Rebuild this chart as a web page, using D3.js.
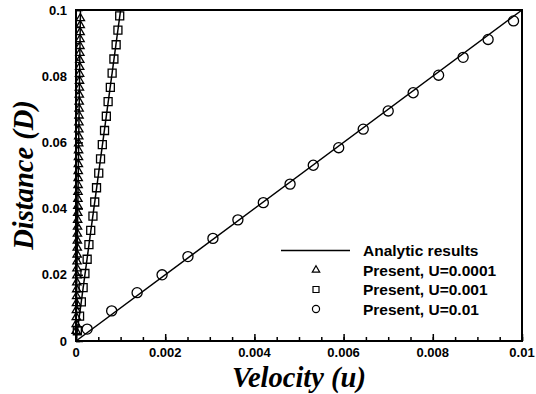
<!DOCTYPE html>
<html>
<head>
<meta charset="utf-8">
<script src="https://cdn.jsdelivr.net/npm/d3@7"></script>
<style>
body { margin: 0; background: #fff; }
text { font-family: "Liberation Sans", Arial, sans-serif; }
</style>
</head>
<body>
<div id="container"></div>
<script>
var width = 536,
    height = 394;

// analytic lines: end velocity at D = 0.1 for each U
var analyticU = [0.0001, 0.001, 0.01];
var analyticD = [0, 0.1];

// Present, U=0.0001 (triangles)
var triD = [0.0975, 0.0954, 0.0933, 0.0912, 0.0891, 0.0870, 0.0849, 0.0828, 0.0807, 0.0786,
            0.0765, 0.0744, 0.0723, 0.0702, 0.0681, 0.0660, 0.0639, 0.0618, 0.0597, 0.0576,
            0.0555, 0.0534, 0.0513, 0.0492, 0.0471, 0.0450, 0.0429, 0.0408, 0.0387, 0.0366,
            0.0345, 0.0324, 0.0303, 0.0282, 0.0261, 0.0240, 0.0219, 0.0198, 0.0177, 0.0156,
            0.0135, 0.0114, 0.0093, 0.0072, 0.0051, 0.0030];
var triU = [0.000098, 0.000095, 0.000093, 0.000091, 0.000089, 0.000087, 0.000085, 0.000083, 0.000081, 0.000079,
            0.000077, 0.000074, 0.000072, 0.000070, 0.000068, 0.000066, 0.000064, 0.000062, 0.000060, 0.000058,
            0.000056, 0.000053, 0.000051, 0.000049, 0.000047, 0.000045, 0.000043, 0.000041, 0.000039, 0.000037,
            0.000035, 0.000032, 0.000030, 0.000028, 0.000026, 0.000024, 0.000022, 0.000020, 0.000018, 0.000016,
            0.000014, 0.000011, 0.000009, 0.000007, 0.000005, 0.000003];

// Present, U=0.001 (squares)
var sqD = [0.0982, 0.0939, 0.0895, 0.0852, 0.0809, 0.0766, 0.0723, 0.0679, 0.0636, 0.0593,
           0.0550, 0.0507, 0.0463, 0.0420, 0.0377, 0.0334, 0.0291, 0.0247, 0.0204, 0.0161,
           0.0118, 0.0075, 0.0031];
var sqU = [0.00098, 0.00094, 0.00090, 0.00085, 0.00081, 0.00077, 0.00072, 0.00068, 0.00064, 0.00059,
           0.00055, 0.00051, 0.00046, 0.00042, 0.00038, 0.00033, 0.00029, 0.00025, 0.00020, 0.00016,
           0.00012, 0.00008, 0.00003];

// Present, U=0.01 (circles)
var cirU = [0.00025, 0.00080, 0.00137, 0.00193, 0.00251, 0.00307, 0.00363, 0.00420, 0.00480,
            0.00532, 0.00589, 0.00644, 0.00700, 0.00756, 0.00813, 0.00868, 0.00924, 0.00981];
var cirD = [0.0036, 0.0091, 0.0146, 0.0200, 0.0255, 0.0310, 0.0366, 0.0418, 0.0474,
            0.0531, 0.0584, 0.0640, 0.0695, 0.0750, 0.0803, 0.0857, 0.0911, 0.0967];

var xMajor = [0, 0.002, 0.004, 0.006, 0.008, 0.01];
var xLabels = ["0", "0.002", "0.004", "0.006", "0.008", "0.01"];
var yMajor = [0, 0.02, 0.04, 0.06, 0.08, 0.1];
var yLabels = ["0", "0.02", "0.04", "0.06", "0.08", "0.1"];

var legendLabels = ["Analytic results", "Present, U=0.0001", "Present, U=0.001", "Present, U=0.01"];

var margin = {left: 76, right: 14, top: 10, bottom: 53};

var svg = d3.select("#container").append("svg")
    .attr("width", width)
    .attr("height", height);

var x = d3.scaleLinear()
    .domain([0, 0.01])
    .range([margin.left, width - margin.right]);
var y = d3.scaleLinear()
    .domain([0, 0.1])
    .range([height - margin.bottom, margin.top]);

// frame
svg.append("rect")
    .attr("x", x(0))
    .attr("y", y(0.1))
    .attr("width", x(0.01) - x(0))
    .attr("height", y(0) - y(0.1))
    .attr("fill", "none")
    .attr("stroke", "black")
    .attr("stroke-width", 2);

// x axis ticks (inward)
svg.append("g")
    .attr("transform", "translate(0," + y(0) + ")")
    .call(d3.axisTop(x).tickValues(d3.range(0, 0.01001, 0.0005)).tickSize(4).tickFormat(""))
    .call(g => g.select(".domain").remove())
    .call(g => g.selectAll("line").attr("stroke-width", 1.5));
svg.append("g")
    .attr("transform", "translate(0," + y(0) + ")")
    .call(d3.axisTop(x).tickValues(xMajor).tickSize(7).tickFormat(""))
    .call(g => g.select(".domain").remove())
    .call(g => g.selectAll("line").attr("stroke-width", 1.5));

// y axis ticks (inward)
svg.append("g")
    .attr("transform", "translate(" + x(0) + ",0)")
    .call(d3.axisRight(y).tickValues(d3.range(0, 0.1001, 0.005)).tickSize(4).tickFormat(""))
    .call(g => g.select(".domain").remove())
    .call(g => g.selectAll("line").attr("stroke-width", 1.5));
svg.append("g")
    .attr("transform", "translate(" + x(0) + ",0)")
    .call(d3.axisRight(y).tickValues(yMajor).tickSize(7).tickFormat(""))
    .call(g => g.select(".domain").remove())
    .call(g => g.selectAll("line").attr("stroke-width", 1.5));

// tick labels
svg.selectAll(".xlab")
    .data(xMajor)
    .enter().append("text")
    .attr("class", "xlab")
    .attr("x", d => x(d))
    .attr("y", y(0) + 16)
    .attr("text-anchor", "middle")
    .attr("font-size", 13)
    .attr("font-weight", "bold")
    .text((d, i) => xLabels[i]);

svg.selectAll(".ylab")
    .data(yMajor)
    .enter().append("text")
    .attr("class", "ylab")
    .attr("x", x(0) - 9)
    .attr("y", d => y(d) + 4.5)
    .attr("text-anchor", "end")
    .attr("font-size", 13)
    .attr("font-weight", "bold")
    .text((d, i) => yLabels[i]);

// axis titles
svg.append("text")
    .attr("x", (x(0) + x(0.01)) / 2)
    .attr("y", 387)
    .attr("text-anchor", "middle")
    .style("font-family", "'Liberation Serif', 'Times New Roman', serif")
    .attr("font-size", 28.5)
    .attr("font-weight", "bold")
    .attr("font-style", "italic")
    .text("Velocity (u)");

svg.append("text")
    .attr("transform", "translate(33,175) rotate(-90)")
    .attr("text-anchor", "middle")
    .style("font-family", "'Liberation Serif', 'Times New Roman', serif")
    .attr("font-size", 28.5)
    .attr("font-weight", "bold")
    .attr("font-style", "italic")
    .text("Distance (D)");

// analytic lines
var line = d3.line()
    .x(d => x(d[0]))
    .y(d => y(d[1]));
analyticU.forEach(U => {
    svg.append("path")
        .attr("d", line(analyticD.map(D => [U * D / 0.1, D])))
        .attr("fill", "none")
        .attr("stroke", "black")
        .attr("stroke-width", 1.5);
});

var sym = {
    tri: d3.symbol().type(d3.symbolTriangle),
    sq: d3.symbol().type(d3.symbolSquare),
    cir: d3.symbol().type(d3.symbolCircle)
};

function drawMarkers(us, ds, type, size) {
    svg.append("g").selectAll("path")
        .data(us)
        .enter().append("path")
        .attr("d", sym[type].size(size)())
        .attr("transform", (d, i) => "translate(" + x(d) + "," + y(ds[i]) + ")")
        .attr("fill", "none")
        .attr("stroke", "black")
        .attr("stroke-width", 1.3);
}
drawMarkers(triU, triD, "tri", 30);
drawMarkers(sqU, sqD, "sq", 64);
drawMarkers(cirU, cirD, "cir", 80);

// legend
var lg = svg.append("g");
lg.append("line")
    .attr("x1", 281).attr("x2", 350)
    .attr("y1", 250.5).attr("y2", 250.5)
    .attr("stroke", "black")
    .attr("stroke-width", 1.5);
var legendTypes = [null, "tri", "sq", "cir"];
var legendSizes = [0, 24, 36, 40];
legendLabels.forEach((t, i) => {
    var ly = 250.5 + i * 19.5;
    if (legendTypes[i]) {
        lg.append("path")
            .attr("d", sym[legendTypes[i]].size(legendSizes[i])())
            .attr("transform", "translate(316," + ly + ")")
            .attr("fill", "none")
            .attr("stroke", "black")
            .attr("stroke-width", 1.2);
    }
    lg.append("text")
        .attr("x", 363)
        .attr("y", ly + 5.5)
        .attr("font-size", 15.5)
        .attr("font-weight", "bold")
        .text(t);
});
</script>
</body>
</html>
